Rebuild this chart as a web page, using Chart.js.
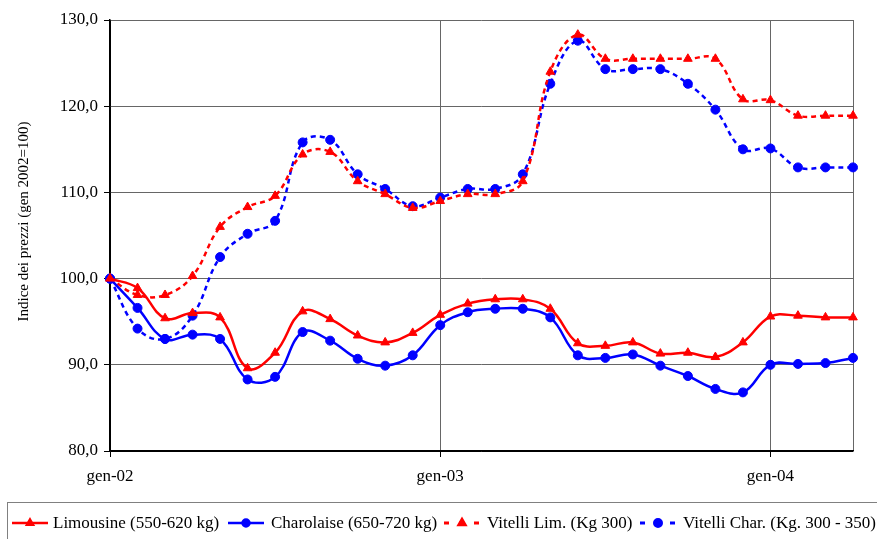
<!DOCTYPE html>
<html lang="it">
<head>
<meta charset="UTF-8">
<script src="https://cdn.jsdelivr.net/npm/chart.js@4.4.1/dist/chart.umd.min.js"></script>
<style>
  html, body { margin: 0; padding: 0; background: #FFFFFF; }
  #wrap { width: 877px; height: 539px; }
</style>
</head>
<body>
<div id="wrap"><canvas id="prezzi" width="877" height="539"></canvas></div>
<script>
  // mesi da gen-02 ad apr-04
  const mesi = ['gen','feb','mar','apr','mag','giu','lug','ago','set','ott','nov','dic'];
  const labels = [];
  for (const anno of ['02', '03', '04']) {
    for (const m of mesi) labels.push(m + '-' + anno);
  }
  labels.length = 28;

  const limousine   = [100, 98.9, 95.4, 96.0, 95.5, 89.6, 91.4, 96.2, 95.3, 93.4, 92.6, 93.7, 95.8, 97.1, 97.6, 97.6, 96.5, 92.5, 92.2, 92.6, 91.3, 91.4, 90.9, 92.6, 95.6, 95.7, 95.5, 95.5];
  const charolaise  = [100, 96.6, 93.0, 93.5, 93.0, 88.3, 88.6, 93.8, 92.8, 90.7, 89.9, 91.1, 94.6, 96.1, 96.5, 96.5, 95.5, 91.1, 90.8, 91.2, 89.9, 88.7, 87.2, 86.8, 90.0, 90.1, 90.2, 90.8];
  const vitelliLim  = [100, 98.1, 98.1, 100.3, 106.0, 108.3, 109.6, 114.4, 114.7, 111.3, 109.8, 108.2, 109.0, 109.8, 109.8, 111.3, 124.0, 128.3, 125.5, 125.5, 125.5, 125.5, 125.5, 120.8, 120.7, 118.9, 118.9, 118.9];
  const vitelliChar = [100, 94.2, 93.0, 95.7, 102.5, 105.2, 106.7, 115.8, 116.1, 112.1, 110.4, 108.4, 109.4, 110.4, 110.4, 112.1, 122.6, 127.6, 124.3, 124.3, 124.3, 122.6, 119.6, 115.0, 115.1, 112.9, 112.9, 112.9];

  const nomi = ['Limousine (550-620 kg)', 'Charolaise (650-720 kg)', 'Vitelli Lim. (Kg 300)', 'Vitelli Char. (Kg. 300 - 350)'];
  const yTicks = [80, 90, 100, 110, 120, 130];
  const titoloY = 'Indice dei prezzi (gen 2002=100)';

  const FONT = 'Liberation Serif';
  const ROSSO = '#FF0000';
  const BLU = '#0000FF';

  function serie(nome, dati, colore, stile, tratteggio) {
    return {
      label: nome,
      data: dati,
      borderColor: colore,
      backgroundColor: colore,
      borderWidth: 2.5,
      borderDash: tratteggio ? [5, 4] : [],
      pointStyle: stile,
      pointRadius: stile === 'triangle' ? 5 : 4.5,
      pointBorderWidth: 1,
      pointHoverRadius: 5,
      tension: 0.4
    };
  }

  // titolo asse y e legenda disegnati a mano come in Excel
  const legendaBox = {
    id: 'legendaBox',
    afterDraw(chart) {
      const ctx = chart.ctx;
      ctx.save();
      ctx.translate(24, 221.5);
      ctx.rotate(-Math.PI / 2);
      ctx.font = '15px "' + FONT + '"';
      ctx.fillStyle = '#000';
      ctx.textAlign = 'center';
      ctx.textBaseline = 'middle';
      ctx.fillText(titoloY, 0, 0);
      ctx.restore();

      ctx.save();
      ctx.strokeStyle = '#808080';
      ctx.lineWidth = 1;
      ctx.strokeRect(7.5, 502.5, 880, 50);
      const y = 523;
      const xs = [12, 228, 444, 640];
      const xt = [53, 271, 487, 683];
      ctx.font = '17px "' + FONT + '"';
      ctx.textBaseline = 'middle';
      chart.data.datasets.forEach((ds, i) => {
        const x = xs[i];
        const tratt = ds.borderDash.length > 0;
        ctx.strokeStyle = ds.borderColor;
        ctx.lineWidth = tratt ? 3 : 2.5;
        ctx.setLineDash(tratt ? [5, 10] : []);
        ctx.beginPath();
        ctx.moveTo(x, y);
        ctx.lineTo(x + 36, y);
        ctx.stroke();
        ctx.setLineDash([]);
        ctx.fillStyle = ds.backgroundColor;
        Chart.helpers.drawPoint(ctx, {
          pointStyle: ds.pointStyle, radius: 3.5, rotation: 0, borderWidth: 1
        }, x + 18, y);
        ctx.fillStyle = '#000';
        ctx.fillText(ds.label, xt[i], y + 1);
      });
      ctx.restore();
    }
  };

  const grigio = '#666666';

  new Chart(document.getElementById('prezzi'), {
    type: 'line',
    data: {
      labels: labels,
      datasets: [
        serie(nomi[0], limousine, ROSSO, 'triangle', false),
        serie(nomi[1], charolaise, BLU, 'circle', false),
        serie(nomi[2], vitelliLim, ROSSO, 'triangle', true),
        serie(nomi[3], vitelliChar, BLU, 'circle', true)
      ]
    },
    options: {
      responsive: false,
      animation: false,
      layout: { padding: { left: 0, top: 20, right: 24, bottom: 48 } },
      plugins: {
        legend: { display: false },
        tooltip: { enabled: false }
      },
      scales: {
        x: {
          type: 'category',
          offset: false,
          afterFit(scale) { scale.height = 40; },
          grid: {
            color(c) {
              const l = labels[c.index];
              if (c.index === 0) return '#000';
              if (l && (l.startsWith('gen') || c.index === labels.length - 1)) return grigio;
              return 'rgba(0,0,0,0)';
            },
            tickColor(c) {
              const l = labels[c.index];
              return l && l.startsWith('gen') ? '#000' : 'rgba(0,0,0,0)';
            },
            tickLength: 6,
            lineWidth: 1
          },
          border: { color: '#000', width: 1.5 },
          ticks: {
            autoSkip: false,
            maxRotation: 0,
            minRotation: 0,
            padding: 9,
            color: '#000',
            font: { family: FONT, size: 17 },
            callback(v, i) {
              return labels[i].startsWith('gen') ? labels[i] : '';
            }
          }
        },
        y: {
          min: 80,
          max: 130,
          afterFit(scale) { scale.width = 110; },
          afterBuildTicks(scale) { scale.ticks = yTicks.map(v => ({ value: v })); },
          grid: {
            color(c) { return c.tick && c.tick.value === 80 ? '#000' : grigio; },
            tickColor: '#000',
            tickLength: 6,
            lineWidth: 1
          },
          border: { color: '#000', width: 1.5 },
          ticks: {
            padding: 6,
            color: '#000',
            font: { family: FONT, size: 17 },
            callback(v) { return v.toFixed(1).replace('.', ','); }
          }
        }
      }
    },
    plugins: [legendaBox]
  });
</script>
</body>
</html>
